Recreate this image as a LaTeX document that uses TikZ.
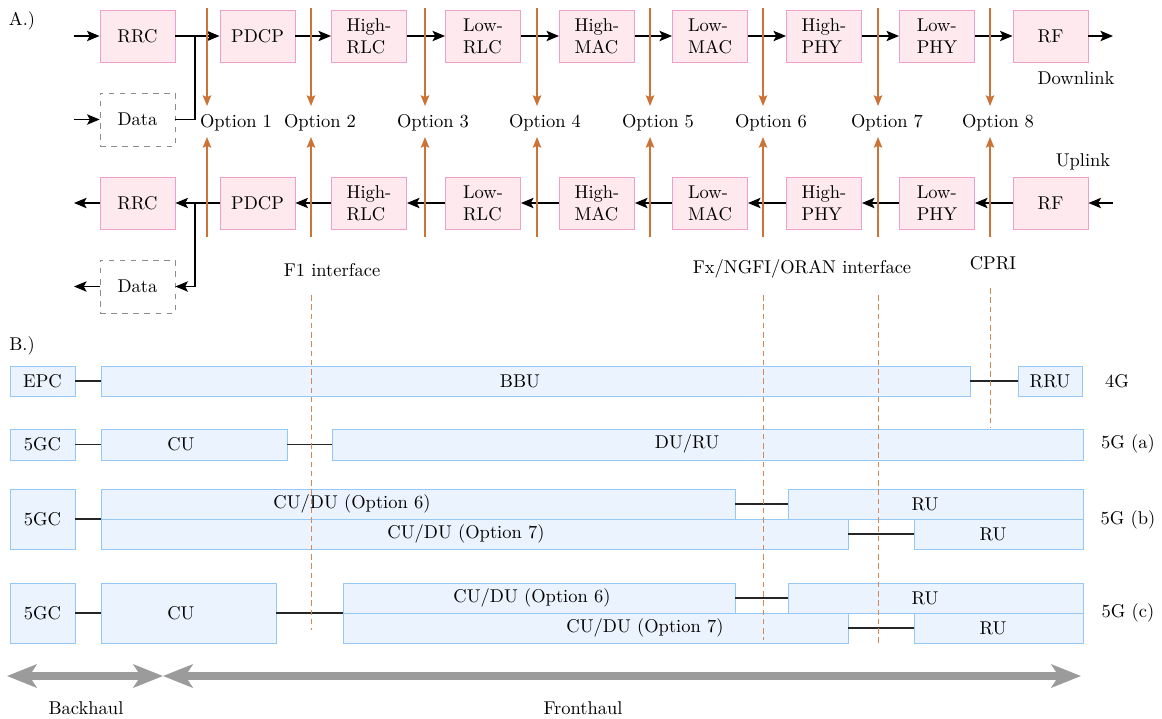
\documentclass[tikz,border=0pt]{standalone}
\usetikzlibrary{arrows.meta,fit,calc}
\newdimen\pxu \pxu=0.5405pt
\definecolor{pinkfill}{RGB}{253,233,238}
\definecolor{pinkdraw}{RGB}{240,160,200}
\definecolor{bluefill}{RGB}{235,244,254}
\definecolor{bluedraw}{RGB}{150,200,245}
\definecolor{optorange}{RGB}{204,115,55}
\definecolor{arrowgray}{RGB}{155,155,155}
\begin{document}
\begin{tikzpicture}[x=\pxu, y=-\pxu,
  pbox/.style={draw=pinkdraw, fill=pinkfill, minimum width=75\pxu, minimum height=52\pxu, align=left, inner sep=0pt, line width=0.5pt},
  dbox/.style={draw=black!45, dashed, minimum width=75\pxu, minimum height=53\pxu, inner sep=0pt},
  bbox/.style={draw=bluedraw, fill=bluefill, inner sep=0pt, line width=0.5pt},
  blk/.style={-{Stealth[length=6.8pt,width=5.6pt,inset=1.5pt]}, line width=0.7pt},
  conn/.style={line width=0.6pt, black!85},
  oarr/.style={-{Stealth[length=5.8pt,width=4.6pt,inset=1pt]}, line width=0.6pt, optorange},
  odash/.style={dashed, line width=0.5pt, optorange!85, dash pattern=on 3pt off 2pt},
  garrow/.style={{Stealth[length=16pt,width=12.5pt,inset=4pt]}-{Stealth[length=16pt,width=12.5pt,inset=4pt]}, line width=4.3pt, arrowgray},
  lbl/.style={inner sep=0pt}
]
\useasboundingbox (0,0) rectangle (1162,718);

% ---------------- A.) ----------------
\node[lbl] (labA) at (22,21) {A.)};

% downlink row
\node[pbox] (rrcD)  at (137.5,36) {RRC};
\node[pbox] (pdcpD) at (257.5,36) {PDCP};
\node[pbox] (hrlcD) at (369,36) {High-\\RLC};
\node[pbox] (lrlcD) at (483,36) {Low-\\RLC};
\node[pbox] (hmacD) at (597,36) {High-\\MAC};
\node[pbox] (lmacD) at (710,36) {Low-\\MAC};
\node[pbox] (hphyD) at (824,36) {High-\\PHY};
\node[pbox] (lphyD) at (937,36) {Low-\\PHY};
\node[pbox] (rfD)   at (1050.5,36) {RF};
\node[dbox] (data1) at (137.5,119.5) {Data};

% uplink row
\node[pbox] (rrcU)  at (137.5,203) {RRC};
\node[pbox] (pdcpU) at (257.5,203) {PDCP};
\node[pbox] (hrlcU) at (369,203) {High-\\RLC};
\node[pbox] (lrlcU) at (483,203) {Low-\\RLC};
\node[pbox] (hmacU) at (597,203) {High-\\MAC};
\node[pbox] (lmacU) at (710,203) {Low-\\MAC};
\node[pbox] (hphyU) at (824,203) {High-\\PHY};
\node[pbox] (lphyU) at (937,203) {Low-\\PHY};
\node[pbox] (rfU)   at (1050.5,203) {RF};
\node[dbox] (data2) at (137.5,286.5) {Data};

\coordinate (inD) at (74,36);
\coordinate (outD) at (1113,36);
\coordinate (inData) at (74,119.5);
\coordinate (jD) at (195,36);
\coordinate (inU) at (1113,203);
\coordinate (outU) at (74,203);
\coordinate (outData) at (74,286.5);
\coordinate (jU) at (195,203);

\draw[blk] (inD) -- (rrcD);
\draw[blk] (rrcD) -- (pdcpD);
\draw[blk] (pdcpD) -- (hrlcD);
\draw[blk] (hrlcD) -- (lrlcD);
\draw[blk] (lrlcD) -- (hmacD);
\draw[blk] (hmacD) -- (lmacD);
\draw[blk] (lmacD) -- (hphyD);
\draw[blk] (hphyD) -- (lphyD);
\draw[blk] (lphyD) -- (rfD);
\draw[blk] (rfD) -- (outD);
\draw[blk] (inData) -- (data1);
\draw[line width=0.7pt] (data1.east) -| (jD);

\draw[blk] (inU) -- (rfU);
\draw[blk] (rfU) -- (lphyU);
\draw[blk] (lphyU) -- (hphyU);
\draw[blk] (hphyU) -- (lmacU);
\draw[blk] (lmacU) -- (hmacU);
\draw[blk] (hmacU) -- (lrlcU);
\draw[blk] (lrlcU) -- (hrlcU);
\draw[blk] (hrlcU) -- (pdcpU);
\draw[blk] (pdcpU) -- (rrcU);
\draw[blk] (rrcU) -- (outU);
\draw[blk] (data2) -- (outData);
\draw[blk] (jU) |- (data2.east);

% options
\node[lbl] (opt1) at (236,122.5) {Option 1};
\node[lbl] (opt2) at (320,122.5) {Option 2};
\node[lbl] (opt3) at (433,122.5) {Option 3};
\node[lbl] (opt4) at (545,122.5) {Option 4};
\node[lbl] (opt5) at (658,122.5) {Option 5};
\node[lbl] (opt6) at (771,122.5) {Option 6};
\node[lbl] (opt7) at (887,122.5) {Option 7};
\node[lbl] (opt8) at (998,122.5) {Option 8};

\foreach \x [count=\i] in {207,311,425,537,650,763,878,990} {
  \coordinate (ot\i) at (\x,8);
  \coordinate (od\i) at (\x,106);
  \coordinate (ob\i) at (\x,237);
  \coordinate (ou\i) at (\x,137);
  \draw[oarr] (ot\i) -- (od\i);
  \draw[oarr] (ob\i) -- (ou\i);
}

\node[lbl] (downl) at (1076,78) {Downlink};
\node[lbl] (upl) at (1083,162) {Uplink};
\node[lbl] (f1) at (332,270) {F1 interface};
\node[lbl] (fx) at (802,269) {Fx/NGFI/ORAN interface};
\node[lbl] (cpri) at (993,263) {CPRI};

% ---------------- B.) ----------------
\node[lbl] (labB) at (22,346) {B.)};

\node[bbox, fit={(10,366)(75,396)}] (epc) {};
\node[bbox, fit={(101,366)(970,396)}] (bbu) {};
\node[bbox, fit={(1018,366)(1082,396)}] (rru) {};

\node[bbox, fit={(10,429)(75,460)}] (gca) {};
\node[bbox, fit={(101,429)(287,460)}] (cua) {};
\node[bbox, fit={(332,429)(1083,460)}] (dura) {};

\node[bbox, fit={(10,489)(75,549)}] (gcb) {};
\node[bbox, fit={(101,489)(735,519)}] (cudu6b) {};
\node[bbox, fit={(788,489)(1083,519)}] (rub6) {};
\node[bbox, fit={(101,519)(848,549)}] (cudu7b) {};
\node[bbox, fit={(914,519)(1083,549)}] (rub7) {};

\node[bbox, fit={(10,583)(75,643)}] (gcc) {};
\node[bbox, fit={(101,583)(276,643)}] (cuc) {};
\node[bbox, fit={(343,583)(735,613)}] (cudu6c) {};
\node[bbox, fit={(788,583)(1083,613)}] (ruc6) {};
\node[bbox, fit={(343,613)(848,643)}] (cudu7c) {};
\node[bbox, fit={(914,613)(1083,643)}] (ruc7) {};

% texts
\node[lbl] (tepc) at (epc.center) {EPC};
\node[lbl] (tbbu) at (520,381) {BBU};
\node[lbl] (trru) at (rru.center) {RRU};
\node[lbl] (tgca) at (gca.center) {5GC};
\node[lbl] (tcua) at (181,444) {CU};
\node[lbl] (tdura) at (687,444) {DU/RU};
\node[lbl] (tgcb) at (gcb.center) {5GC};
\node[lbl] (tcudu6b) at (352,504) {CU/DU (Option 6)};
\node[lbl] (trub6) at (925,504) {RU};
\node[lbl] (tcudu7b) at (466,534) {CU/DU (Option 7)};
\node[lbl] (trub7) at (993,534) {RU};
\node[lbl] (tgcc) at (gcc.center) {5GC};
\node[lbl] (tcuc) at (181,613) {CU};
\node[lbl] (tcudu6c) at (532,598) {CU/DU (Option 6)};
\node[lbl] (truc6) at (925,598) {RU};
\node[lbl] (tcudu7c) at (645,628) {CU/DU (Option 7)};
\node[lbl] (truc7) at (993,628) {RU};

\node[lbl] (g4) at (1117,381) {4G};
\node[lbl] (g5a) at (1128,444) {5G (a)};
\node[lbl] (g5b) at (1128,520) {5G (b)};
\node[lbl] (g5c) at (1128,613) {5G (c)};

% connections
\draw[conn] (epc.east) -- (bbu.west);
\draw[conn] (bbu.east) -- (rru.west);
\draw[conn] (gca.east) -- (cua.west);
\draw[conn] (cua.east) -- (dura.west);
\draw[conn] (gcb.east) -- (gcb.east -| cudu6b.west);
\draw[conn] (cudu6b.east) -- (rub6.west);
\draw[conn] (cudu7b.east) -- (rub7.west);
\draw[conn] (gcc.east) -- (cuc.west);
\draw[conn] (cuc.east) -- (cuc.east -| cudu6c.west);
\draw[conn] (cudu6c.east) -- (ruc6.west);
\draw[conn] (cudu7c.east) -- (ruc7.west);

% dashed interface lines
\coordinate (d1a) at (311,295); \coordinate (d1b) at (311,630);
\coordinate (d2a) at (763,295); \coordinate (d2b) at (763,640);
\coordinate (d3a) at (878,295); \coordinate (d3b) at (878,645);
\coordinate (d4a) at (990,288); \coordinate (d4b) at (990,428);
\draw[odash] (d1a) -- (d1b);
\draw[odash] (d2a) -- (d2b);
\draw[odash] (d3a) -- (d3b);
\draw[odash] (d4a) -- (d4b);

% haul arrows
\coordinate (h0) at (7,676);
\coordinate (h1) at (163,676);
\coordinate (h2) at (1081,676);
\draw[garrow] (h0) -- (h1);
\draw[garrow] (h1) -- (h2);
\node[lbl] (bh) at (86,708) {Backhaul};
\node[lbl] (fh) at (583,708) {Fronthaul};
\end{tikzpicture}
\end{document}
